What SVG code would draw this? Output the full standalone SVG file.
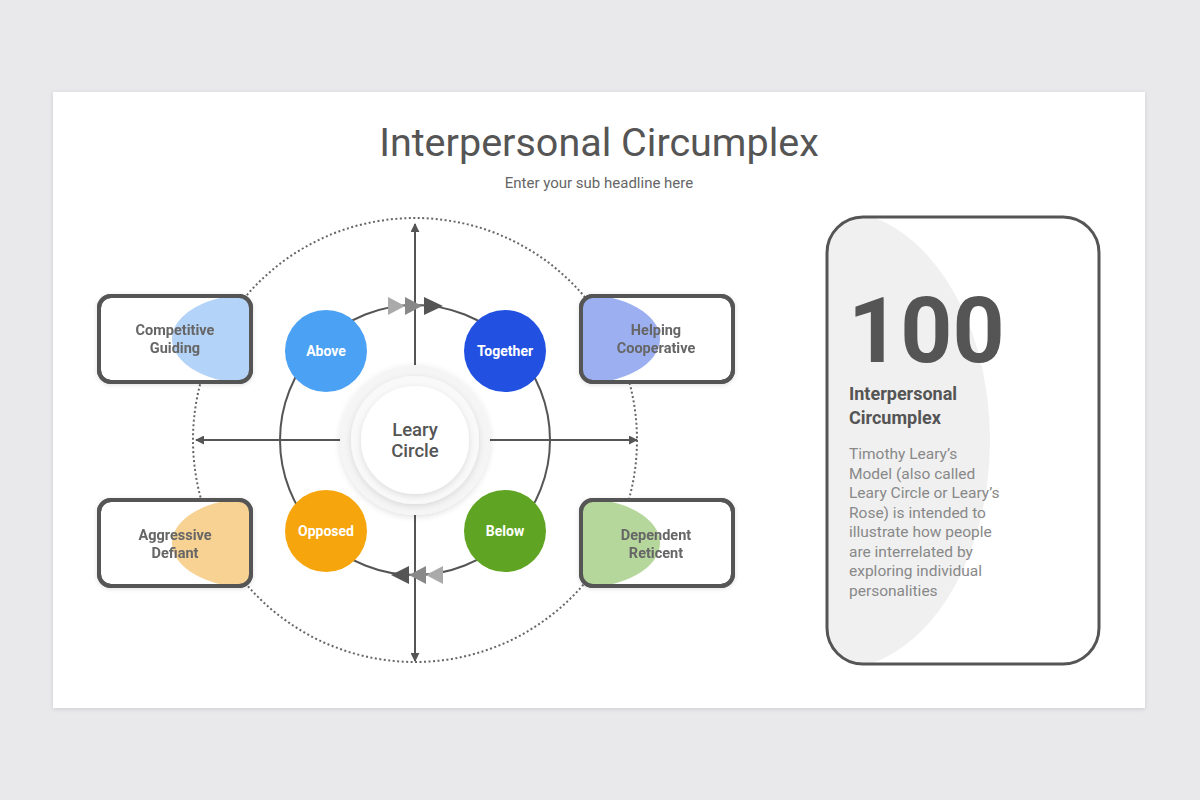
<svg xmlns="http://www.w3.org/2000/svg" width="1200" height="800" viewBox="0 0 1200 800">
<defs>
<filter id="sh" x="-20%" y="-20%" width="140%" height="140%"><feDropShadow dx="0" dy="1" stdDeviation="2" flood-color="#000" flood-opacity="0.12"/></filter>
<filter id="sh2" x="-30%" y="-30%" width="160%" height="160%"><feDropShadow dx="0" dy="2" stdDeviation="3" flood-color="#000" flood-opacity="0.12"/></filter>
<marker id="ah" viewBox="0 0 10 10" refX="9" refY="5" markerWidth="9" markerHeight="9" markerUnits="userSpaceOnUse" orient="auto"><path d="M0,0 L10,5 L0,10 z" fill="#555"/></marker>
<clipPath id="c1"><rect x="99" y="296" width="152" height="86" rx="12"/></clipPath>
<clipPath id="c2"><rect x="581" y="296" width="152" height="86" rx="12"/></clipPath>
<clipPath id="c3"><rect x="99" y="500" width="152" height="86" rx="12"/></clipPath>
<clipPath id="c4"><rect x="581" y="500" width="152" height="86" rx="12"/></clipPath>
<clipPath id="c5"><rect x="827" y="217" width="272" height="447" rx="36"/></clipPath>
</defs>
<style>
.box{fill:#fff;stroke:#555;stroke-width:4}
.bt{font-family:Roboto,"Liberation Sans",sans-serif;font-weight:bold;font-size:14.5px;fill:#666;text-anchor:middle}
.ct{font-family:Roboto,"Liberation Sans",sans-serif;font-weight:bold;font-size:14px;fill:#fff;text-anchor:middle}
.ax{stroke:#555;stroke-width:2;fill:none}
.desc{font-family:Roboto,"Liberation Sans",sans-serif;font-size:15.5px;fill:#888}
</style>
<rect width="1200" height="800" fill="#e9e8ea"/>
<rect x="53" y="92" width="1092" height="616" fill="#fff" filter="url(#sh)"/>
<text x="599" y="156" font-family="Roboto,'Liberation Sans',sans-serif" font-size="39.5" fill="#555" text-anchor="middle">Interpersonal Circumplex</text>
<text x="599" y="188" font-family="Roboto,'Liberation Sans',sans-serif" font-size="15" fill="#666" text-anchor="middle">Enter your sub headline here</text>

<g id="outer-ring">
<circle cx="415" cy="440" r="222" fill="none" stroke="#666" stroke-width="2" stroke-dasharray="2 2.5"/>
<circle cx="415" cy="440" r="135" fill="none" stroke="#555" stroke-width="2"/>
</g>

<g id="connectors">
<line class="ax" x1="415" y1="440" x2="415" y2="224" marker-end="url(#ah)"/>
<line class="ax" x1="415" y1="440" x2="415" y2="661" marker-end="url(#ah)"/>
<line class="ax" x1="415" y1="440" x2="196" y2="440" marker-end="url(#ah)"/>
<line class="ax" x1="415" y1="440" x2="637" y2="440" marker-end="url(#ah)"/>
<polygon points="388,297 405,306 388,315" fill="#aaa"/>
<polygon points="405,297 422,306 405,315" fill="#888"/>
<polygon points="424,297 443,306 424,315" fill="#555"/>
<polygon points="409,566 391,575 409,584" fill="#555"/>
<polygon points="426,566 409,575 426,584" fill="#888"/>
<polygon points="443,566 426,575 443,584" fill="#aaa"/>
</g>

<g id="center">
<circle cx="415" cy="440" r="75" fill="#f5f5f5" filter="url(#sh2)"/>
<circle cx="415" cy="440" r="64" fill="#f9f9f9" filter="url(#sh2)"/>
<circle cx="415" cy="440" r="54" fill="#fff" filter="url(#sh2)"/>
<text x="415" y="436" font-family="Roboto,'Liberation Sans',sans-serif" font-weight="500" font-size="18.5" fill="#555" text-anchor="middle">Leary</text>
<text x="415" y="457" font-family="Roboto,'Liberation Sans',sans-serif" font-weight="500" font-size="18.5" fill="#555" text-anchor="middle">Circle</text>
</g>

<g id="above"><circle cx="326" cy="351" r="41" fill="#4ba1f4"/><text class="ct" x="326" y="356">Above</text></g>
<g id="together"><circle cx="505" cy="351" r="41" fill="#2251e2"/><text class="ct" x="505" y="356">Together</text></g>
<g id="opposed"><circle cx="326" cy="531" r="41" fill="#f6a50c"/><text class="ct" x="326" y="536">Opposed</text></g>
<g id="below"><circle cx="505" cy="531" r="41" fill="#5fa523"/><text class="ct" x="505" y="536">Below</text></g>

<g id="competitive" filter="url(#sh)">
<rect class="box" x="99" y="296" width="152" height="86" rx="12"/>
<ellipse cx="252" cy="339" rx="80" ry="45" fill="#b4d3f8" clip-path="url(#c1)"/>
<rect x="99" y="296" width="152" height="86" rx="12" fill="none" stroke="#555" stroke-width="4"/>
<text class="bt" x="175" y="335">Competitive</text>
<text class="bt" x="175" y="353">Guiding</text>
</g>
<g id="helping" filter="url(#sh)">
<rect class="box" x="581" y="296" width="152" height="86" rx="12"/>
<ellipse cx="580" cy="339" rx="80" ry="45" fill="#9cb0f1" clip-path="url(#c2)"/>
<rect x="581" y="296" width="152" height="86" rx="12" fill="none" stroke="#555" stroke-width="4"/>
<text class="bt" x="656" y="335">Helping</text>
<text class="bt" x="656" y="353">Cooperative</text>
</g>
<g id="aggressive" filter="url(#sh)">
<rect class="box" x="99" y="500" width="152" height="86" rx="12"/>
<ellipse cx="252" cy="543" rx="80" ry="45" fill="#f7d293" clip-path="url(#c3)"/>
<rect x="99" y="500" width="152" height="86" rx="12" fill="none" stroke="#555" stroke-width="4"/>
<text class="bt" x="175" y="540">Aggressive</text>
<text class="bt" x="175" y="558">Defiant</text>
</g>
<g id="dependent" filter="url(#sh)">
<rect class="box" x="581" y="500" width="152" height="86" rx="12"/>
<ellipse cx="580" cy="543" rx="80" ry="45" fill="#b6d79c" clip-path="url(#c4)"/>
<rect x="581" y="500" width="152" height="86" rx="12" fill="none" stroke="#555" stroke-width="4"/>
<text class="bt" x="656" y="540">Dependent</text>
<text class="bt" x="656" y="558">Reticent</text>
</g>

<g id="info-panel">
<rect x="827" y="217" width="272" height="447" rx="36" fill="#fff"/>
<ellipse cx="835" cy="440" rx="155" ry="230" fill="#f0f0f0" clip-path="url(#c5)"/>
<rect x="827" y="217" width="272" height="447" rx="36" fill="none" stroke="#555" stroke-width="3"/>
<text x="848" y="362" font-family="Roboto,'Liberation Sans',sans-serif" font-weight="bold" font-size="91" fill="#555">100</text>
<text x="849" y="400" font-family="Roboto,'Liberation Sans',sans-serif" font-weight="bold" font-size="18" fill="#555">Interpersonal</text>
<text x="849" y="424" font-family="Roboto,'Liberation Sans',sans-serif" font-weight="bold" font-size="18" fill="#555">Circumplex</text>
<text class="desc" x="849" y="459">Timothy Leary’s</text>
<text class="desc" x="849" y="478.5">Model (also called</text>
<text class="desc" x="849" y="498">Leary Circle or Leary’s</text>
<text class="desc" x="849" y="517.5">Rose) is intended to</text>
<text class="desc" x="849" y="537">illustrate how people</text>
<text class="desc" x="849" y="556.5">are interrelated by</text>
<text class="desc" x="849" y="576">exploring individual</text>
<text class="desc" x="849" y="595.5">personalities</text>
</g>
</svg>
